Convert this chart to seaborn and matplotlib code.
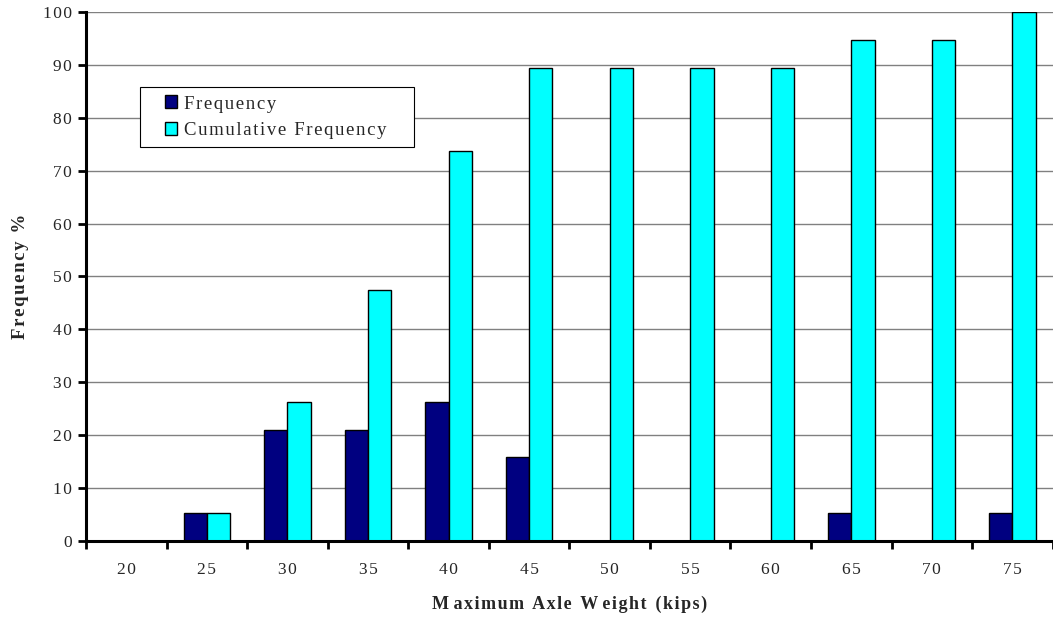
import numpy as np
import pandas as pd
import matplotlib
matplotlib.use("Agg")
import matplotlib.pyplot as plt
from matplotlib.patches import Rectangle
from matplotlib.legend_handler import HandlerPatch
import seaborn as sns

weights = ["20", "25", "30", "35", "40", "45", "50", "55", "60", "65", "70", "75"]
frequency = [0, 5.26, 21.05, 21.05, 26.32, 15.79, 0, 0, 0, 5.26, 0, 5.26]
cumulative = [0, 5.26, 26.32, 47.37, 73.68, 89.47, 89.47, 89.47, 89.47, 94.74, 94.74, 100]

HAIR = "\u200a"


def spaced(s):
    # old spreadsheet look: letters set a little apart
    return HAIR.join(s)


def right_square(legend, orig_handle, xdescent, ydescent, width, height, fontsize):
    # small square sitting at the right end of the handle slot
    side = height * 1.2
    return Rectangle((width - side - xdescent, -ydescent + (height - side) / 2), side, side)


df = pd.DataFrame({
    "weight": weights * 2,
    "value": frequency + cumulative,
    "series": [spaced("Frequency")] * len(weights)
              + [spaced("Cumulative Frequency") + "\u2002\u2002"] * len(weights),
})

sns.set_style("white")
plt.rcParams["font.family"] = ["Liberation Serif", "DejaVu Serif"]

fig = plt.figure(figsize=(10.53, 6.17), dpi=100)
ax = fig.add_axes([0.0817, 0.1232, 0.918, 0.8574])

sns.barplot(data=df, x="weight", y="value", hue="series", order=weights,
            palette=["#000080", "#00FFFF"], width=0.58, edgecolor="black",
            linewidth=1, saturation=1, ax=ax, legend=True)

ax.set_xlim(-0.5, len(weights) - 0.5)
ax.set_ylim(0, 100)
ax.set_yticks(range(0, 101, 10))
ax.set_yticklabels([spaced(str(v)) for v in range(0, 101, 10)])
ax.yaxis.grid(True, color="#808080", linewidth=1)
ax.set_axisbelow(True)

ax.set_xticks(np.arange(len(weights)))
ax.set_xticklabels([spaced(w) for w in weights])
ax.set_xticks(np.arange(-0.5, len(weights)), minor=True)
ax.tick_params(axis="x", which="major", bottom=False, length=0, pad=15, labelsize=12.5)
ax.tick_params(axis="x", which="minor", bottom=True, length=6, width=2,
               direction="out", color="black")
ax.tick_params(axis="y", left=True, length=6, width=2, direction="out",
               color="black", labelsize=12.5, pad=4)

for side in ["top", "right"]:
    ax.spines[side].set_visible(False)
for side in ["left", "bottom"]:
    ax.spines[side].set_linewidth(2.2)
    ax.spines[side].set_color("black")

ax.set_xlabel(" ".join(spaced(w) for w in "M aximum  Axle  W eight  (kips)".split(" ")),
              fontsize=13, fontweight="bold", labelpad=13)
ax.set_ylabel(spaced("Frequency %"), fontsize=13.5, fontweight="bold", labelpad=10)

handles, labels = ax.get_legend_handles_labels()
leg = ax.legend(handles, labels, loc="upper left", bbox_to_anchor=(0.0558, 0.858),
                frameon=True, fancybox=False, edgecolor="black", framealpha=1,
                fontsize=13.5, handlelength=1.55, handleheight=0.5, handletextpad=0.35,
                borderpad=0.45, labelspacing=0.5, borderaxespad=0,
                handler_map={Rectangle: HandlerPatch(patch_func=right_square)})
leg.get_frame().set_linewidth(0.8)
for h in leg.legend_handles:
    h.set_edgecolor("black")
    h.set_linewidth(1)

fig.savefig("out.png", dpi=100)
